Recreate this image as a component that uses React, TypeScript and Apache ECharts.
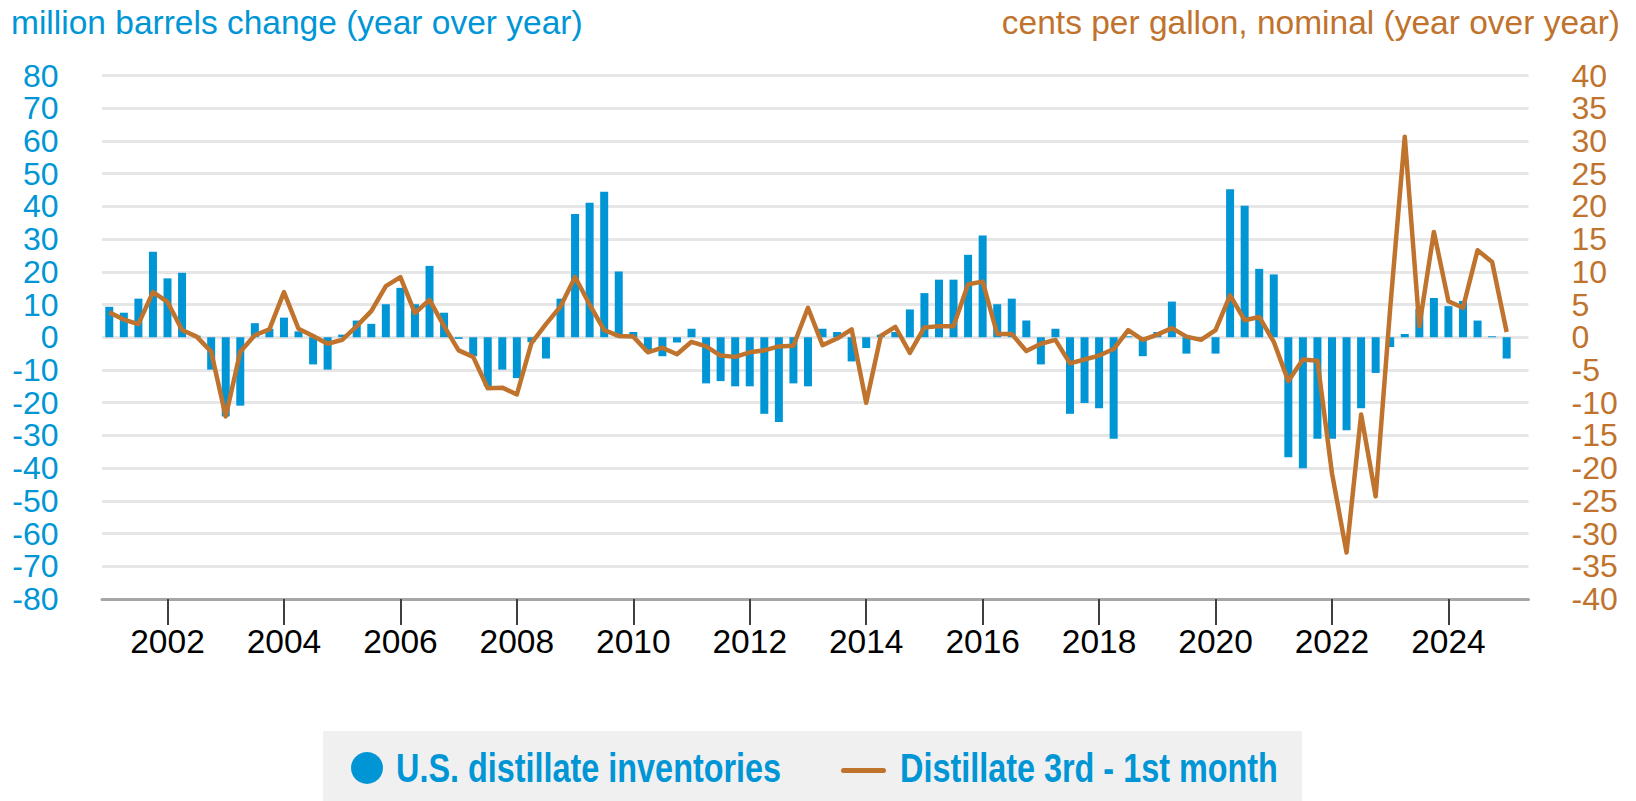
import React, { useEffect, useRef } from "react";
import * as echarts from "echarts";

// Quarterly categories, 2001 Q1 .. 2025 Q2
const years = [2001, 2002, 2003, 2004, 2005, 2006, 2007, 2008, 2009, 2010, 2011, 2012, 2013, 2014, 2015, 2016, 2017, 2018, 2019, 2020, 2021, 2022, 2023, 2024, 2025];
const quarterNames = ["Q1", "Q2", "Q3", "Q4"];
const categories: string[] = years
  .flatMap((y) => quarterNames.map((q) => `${y} ${q}`))
  .slice(0, 98);

// million barrels change (year over year)
const inventories: (number | null)[] = [
  9.3, 7.5, 11.8, 26.1, 18.0, 19.7, 0.5, -9.9,
  -24.2, -20.9, 4.3, 2.6, 6.0, 1.8, -8.3, -9.9,
  0.8, 5.1, 4.1, 10.1, 15.1, 10.1, 21.8, 7.5,
  -0.5, -5.8, -15.0, -9.9, -12.5, -1.5, -6.5, 11.8,
  37.7, 41.1, 44.5, 20.1, 1.6, -4.5, -5.8, -1.6,
  2.6, -14.1, -13.4, -15.0, -15.0, -23.4, -25.9, -14.1,
  -15.0, 2.6, 1.6, -7.4, -3.3, 0.8, 1.6, 8.5,
  13.5, 17.6, 17.6, 25.2, 31.1, 10.1, 11.8, 5.1,
  -8.3, 2.6, -23.4, -20.1, -21.7, -31.0, 0.3, -5.8,
  1.6, 10.9, -5.0, -0.5, -5.0, 45.2, 40.2, 20.9,
  19.2, -36.7, -40.0, -31.0, -31.0, -28.4, -21.7, -10.9,
  -3.0, 1.0, 8.6, 12.0, 9.5, 11.1, 5.1, 0.3,
  -6.5, null,
];

// cents per gallon, nominal (year over year)
const spread: (number | null)[] = [
  3.8, 2.7, 2.0, 6.9, 5.4, 1.1, 0.1, -2.2,
  -12.1, -2.2, 0.3, 1.2, 6.9, 1.3, 0.2, -1.0,
  -0.4, 1.7, 4.0, 7.8, 9.2, 3.7, 5.7, 1.7,
  -2.0, -3.0, -7.8, -7.7, -8.75, -0.9, 2.0, 4.7,
  9.2, 5.0, 1.1, 0.2, 0.1, -2.3, -1.6, -2.6,
  -0.7, -1.4, -2.8, -3.0, -2.3, -2.0, -1.4, -1.3,
  4.5, -1.2, -0.2, 1.2, -10.0, 0.2, 1.6, -2.4,
  1.5, 1.7, 1.7, 8.1, 8.5, 0.5, 0.5, -2.1,
  -1.0, -0.4, -4.0, -3.4, -2.8, -1.8, 1.1, -0.4,
  0.4, 1.4, 0.1, -0.4, 1.1, 6.4, 2.6, 3.1,
  -0.7, -6.7, -3.4, -3.6, -20.8, -32.9, -11.8, -24.3,
  4.5, 30.65, 1.7, 16.1, 5.5, 4.5, 13.3, 11.5,
  0.8, null,
];

const leftTitle = "million barrels change (year over year)";
const rightTitle = "cents per gallon, nominal (year over year)";
const barName = "U.S. distillate inventories";
const lineName = "Distillate 3rd - 1st month";

const BLUE = "#0096d6";
const BROWN = "#bf732d";
const FONT = "'Liberation Sans', Arial, sans-serif";

const showYear = (index: number) => index % 8 === 4;

export default function App() {
  const ref = useRef<HTMLDivElement>(null);

  useEffect(() => {
    if (!ref.current) return;
    const chart = echarts.init(ref.current, null, { renderer: "svg" });
    chart.setOption({
      animation: false,
      backgroundColor: "#ffffff",
      textStyle: { fontFamily: FONT },
      grid: { left: 102, right: 107.5, top: 75.5, height: 523.5, containLabel: false },
      xAxis: {
        type: "category",
        data: categories,
        boundaryGap: true,
        axisLine: { show: true, onZero: false, lineStyle: { color: "#a6a6a6", width: 3 } },
        axisTick: {
          show: true,
          alignWithLabel: true,
          interval: showYear,
          length: 26,
          lineStyle: { color: "#404040", width: 2 },
        },
        axisLabel: {
          interval: showYear,
          formatter: (v: string) => v.slice(0, 4),
          color: "#000000",
          fontSize: 33.5,
          fontFamily: FONT,
          margin: 25,
        },
        splitLine: { show: false },
      },
      yAxis: [
        {
          type: "value",
          min: -80,
          max: 80,
          interval: 10,
          position: "left",
          axisLine: { show: false },
          axisTick: { show: false },
          axisLabel: { color: BLUE, fontSize: 32, fontFamily: FONT, margin: 43.5, align: "right" },
          splitLine: { show: true, lineStyle: { color: "#e6e6e6", width: 3 } },
        },
        {
          type: "value",
          min: -40,
          max: 40,
          interval: 5,
          position: "right",
          axisLine: { show: false },
          axisTick: { show: false },
          axisLabel: { color: BROWN, fontSize: 32, fontFamily: FONT, margin: 43, align: "left" },
          splitLine: { show: false },
        },
      ],
      series: [
        {
          name: barName,
          type: "bar",
          yAxisIndex: 0,
          data: inventories,
          barWidth: 8,
          itemStyle: { color: BLUE },
          z: 2,
        },
        {
          name: lineName,
          type: "line",
          yAxisIndex: 1,
          data: spread,
          symbol: "none",
          lineStyle: { color: BROWN, width: 4.5, join: "round" },
          itemStyle: { color: BROWN },
          z: 3,
        },
      ],
      graphic: [
        {
          type: "text",
          x: 11,
          y: 22,
          style: { text: leftTitle, font: `33.5px ${FONT}`, fill: BLUE, align: "left", verticalAlign: "middle" },
        },
        {
          type: "text",
          x: 1620,
          y: 22,
          style: { text: rightTitle, font: `33.5px ${FONT}`, fill: BROWN, align: "right", verticalAlign: "middle" },
        },
        {
          type: "rect",
          shape: { x: 323, y: 731, width: 979, height: 70 },
          style: { fill: "#f0f0f0" },
        },
        {
          type: "circle",
          shape: { cx: 367, cy: 768, r: 16 },
          style: { fill: BLUE },
        },
        {
          type: "line",
          shape: { x1: 843.5, y1: 770.5, x2: 883.5, y2: 770.5 },
          style: { stroke: BROWN, lineWidth: 5, lineCap: "round" },
        },
        {
          type: "text",
          x: 396,
          y: 768,
          scaleX: 0.79,
          style: { text: barName, font: `bold 41px ${FONT}`, fill: BLUE, align: "left", verticalAlign: "middle" },
        },
        {
          type: "text",
          x: 900,
          y: 768,
          scaleX: 0.79,
          style: { text: lineName, font: `bold 41px ${FONT}`, fill: BLUE, align: "left", verticalAlign: "middle" },
        },
      ],
    });
    return () => chart.dispose();
  }, []);

  return (
    <div
      ref={ref}
      style={{ position: "fixed", left: 0, top: 0, width: 1636, height: 801, background: "#fff" }}
    />
  );
}
